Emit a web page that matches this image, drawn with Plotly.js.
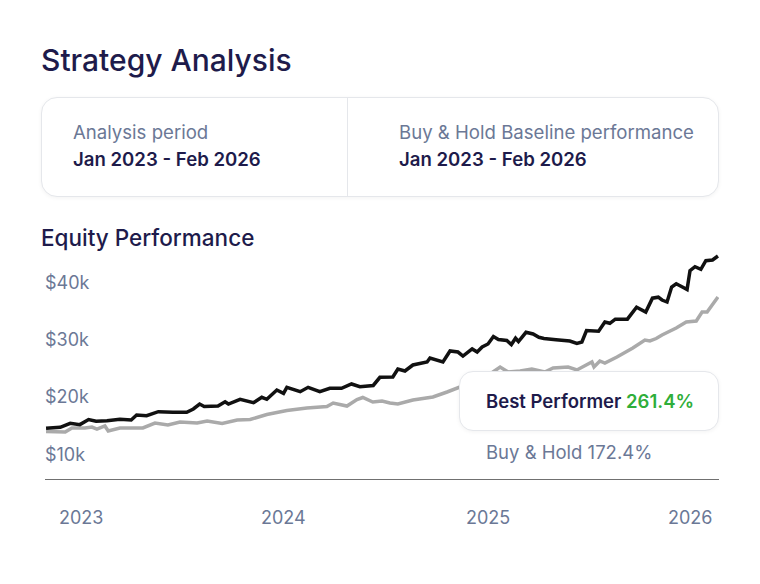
<!DOCTYPE html>
<html>
<head>
<meta charset="utf-8">
<script src="https://cdn.plot.ly/plotly-3.0.1.min.js"></script>
<style>
  html, body { margin: 0; padding: 0; background: #ffffff; }
  body { width: 760px; height: 584px; position: relative; overflow: hidden; font-family: Inter, "Noto Sans", sans-serif; }
  #chart { position: absolute; left: 0; top: 0; width: 760px; height: 584px; }
  .abs { position: absolute; white-space: nowrap; }
  #title { left: 41px; top: 40px; font-size: 30px; font-weight: 500; color: #1e1b4b; line-height: 40px; }
  #card { left: 41px; top: 97px; width: 676px; height: 98px; border: 1px solid #e5e7eb; border-radius: 16px; box-shadow: 0 1px 4px rgba(0,0,0,0.05); background: #fff; }
  #divider { left: 347px; top: 98px; width: 1px; height: 98px; background: #e5e7eb; }
  .lbl { font-size: 18.6px; font-weight: 400; color: #6b7896; line-height: 24px; }
  .val { font-size: 18.6px; font-weight: 600; color: #1e1b4b; line-height: 24px; }
  #sub { left: 41px; top: 223px; font-size: 22.5px; font-weight: 500; color: #1e1b4b; line-height: 30px; }
  #tip { left: 459px; top: 371px; width: 258px; height: 58px; border: 1px solid #e5e7eb; border-radius: 14px; background: #fff; box-shadow: 0 1px 4px rgba(0,0,0,0.05); z-index: 5; }
  #tipText { left: 486px; top: 389px; font-size: 18.5px; font-weight: 600; color: #1e1b4b; line-height: 24px; z-index: 6; }
  #tipText .g { color: #2fae3a; }
  #bh { left: 486px; top: 440px; font-size: 18.5px; font-weight: 400; color: #6b7896; line-height: 24px; z-index: 6; }
</style>
</head>
<body>
<div id="chart"></div>
<div id="title" class="abs">Strategy Analysis</div>
<div id="card" class="abs"></div>
<div id="divider" class="abs"></div>
<div class="abs lbl" style="left:73px; top:120px;">Analysis period</div>
<div class="abs val" style="left:73px; top:147px;">Jan 2023 - Feb 2026</div>
<div class="abs lbl" style="left:399px; top:120px;">Buy &amp; Hold Baseline performance</div>
<div class="abs val" style="left:399px; top:147px;">Jan 2023 - Feb 2026</div>
<div id="sub" class="abs">Equity Performance</div>
<div id="tip" class="abs"></div>
<div id="tipText" class="abs">Best Performer <span class="g">261.4%</span></div>
<div id="bh" class="abs">Buy &amp; Hold 172.4%</div>
<script>
// x values: weeks since start of Jan 2023
const strategyWeeks = [0,3.4,5.8,8.1,10.2,12.0,14.6,17.7,20.4,21.7,24.1,26.9,30.4,33.7,35.3,36.8,37.9,41.2,42.9,43.7,46.5,49.7,51.7,52.9,55.3,56.9,57.7,60.9,62.8,65.6,68.0,70.8,73.2,75.2,78.4,80.0,83.1,84.3,86.0,87.9,91.3,92.0,95.1,96.8,98.7,99.9,102.1,103.3,104.5,105.9,107.2,108.4,110.4,111.5,112.5,113.2,115.0,116.7,118.1,119.3,122.2,125.5,127.2,128.4,129.5,132.4,133.9,135.1,136.4,139.3,141.5,143.7,145.3,146.7,147.6,148.8,149.9,151.0,152.7,153.6,154.3,155.5,156.9,158.1,159.7,161.0];
const strategyEquity = [14540,14720,15420,15190,16070,15790,15870,16120,16000,16870,16750,17450,17340,17340,17920,18790,18360,18440,19190,18790,19610,19020,19960,19610,21240,20660,21710,20940,21710,20940,21540,21540,22290,21820,22030,23460,23510,24910,24560,25610,26130,26830,26130,28060,27880,27180,28410,27880,28760,29280,30590,30070,29890,29190,30290,29720,31330,31030,30450,30240,30010,29800,29400,29630,31640,31520,33130,32900,33620,33620,35710,34870,37290,37460,36970,36620,39240,39820,39160,38810,42090,42790,42340,43840,43960,44660];

const buyHoldWeeks = [0,4.6,6.2,9.3,11.0,12.2,14.1,14.9,17.7,23.2,26.1,29.2,32.1,36.2,38.6,42.2,45.8,48.9,52.9,57.7,62.5,67.3,68.8,72.1,74.5,75.9,78.3,80.5,82.4,84.3,87.9,92.7,96.1,99.2,102.8,106.4,108.8,110.7,113.6,116.4,119.5,121.5,125.1,127.2,129.6,130.8,131.3,132.7,133.9,136.8,140.6,143.5,144.7,146.2,147.6,151.0,153.4,155.8,157.2,158.4,161.0];
const buyHoldEquity = [13990,13900,14600,14600,14770,14420,14950,14070,14600,14600,15470,15120,15650,15470,15820,15380,16000,16080,16960,17660,18090,18360,18970,18440,19580,19930,19140,19320,18970,18790,19490,20020,20890,21760,22810,24040,25260,24390,24560,24910,24390,25090,25260,24740,25610,26130,25260,26310,25960,27010,28580,29980,29810,30240,30850,32080,33130,33300,34870,34870,37500];

const yearTickPos = [8.4, 57.0, 105.8, 154.4];
const yearTickText = ['2023', '2024', '2025', '2026'];
const yTickVals = [10000, 20000, 30000, 40000];
const yTickText = ['$10k', '$20k', '$30k', '$40k'];

const traces = [
  { x: buyHoldWeeks, y: buyHoldEquity, type: 'scatter', mode: 'lines', name: 'Buy & Hold',
    line: { color: '#aaaaaa', width: 3.5 }, hoverinfo: 'skip' },
  { x: strategyWeeks, y: strategyEquity, type: 'scatter', mode: 'lines', name: 'Best Performer',
    line: { color: '#111111', width: 3.5 }, hoverinfo: 'skip' }
];

// year labels drawn under the axis line (inside y labels would hide the first x tick label)
const yearAnnotations = yearTickPos.map((p, i) => ({
  x: p, xref: 'x', y: 0, yref: 'paper', yshift: -38.5,
  text: yearTickText[i], showarrow: false, xanchor: 'center', yanchor: 'middle',
  font: { family: 'Inter, "Noto Sans", sans-serif', size: 18, color: '#6b7896' }
}));

const layout = {
  width: 760, height: 584,
  margin: { l: 45, r: 41, t: 250, b: 105 },
  paper_bgcolor: 'rgba(0,0,0,0)', plot_bgcolor: 'rgba(0,0,0,0)',
  showlegend: false,
  font: { family: 'Inter, "Noto Sans", sans-serif', size: 18, color: '#6b7896' },
  xaxis: {
    range: [-0.25, 161.25], showgrid: false, zeroline: false,
    showline: true, linecolor: '#707070', linewidth: 1,
    showticklabels: false, ticks: ''
  },
  yaxis: {
    range: [5682, 45712], showgrid: false, zeroline: false, showline: false,
    tickmode: 'array', tickvals: yTickVals, ticktext: yTickText,
    ticks: '', ticklabelposition: 'inside', ticklabelstandoff: -3,
    tickfont: { size: 18, color: '#6b7896' }
  },
  annotations: yearAnnotations
};

Plotly.newPlot('chart', traces, layout, { staticPlot: true, displayModeBar: false });
</script>
</body>
</html>
